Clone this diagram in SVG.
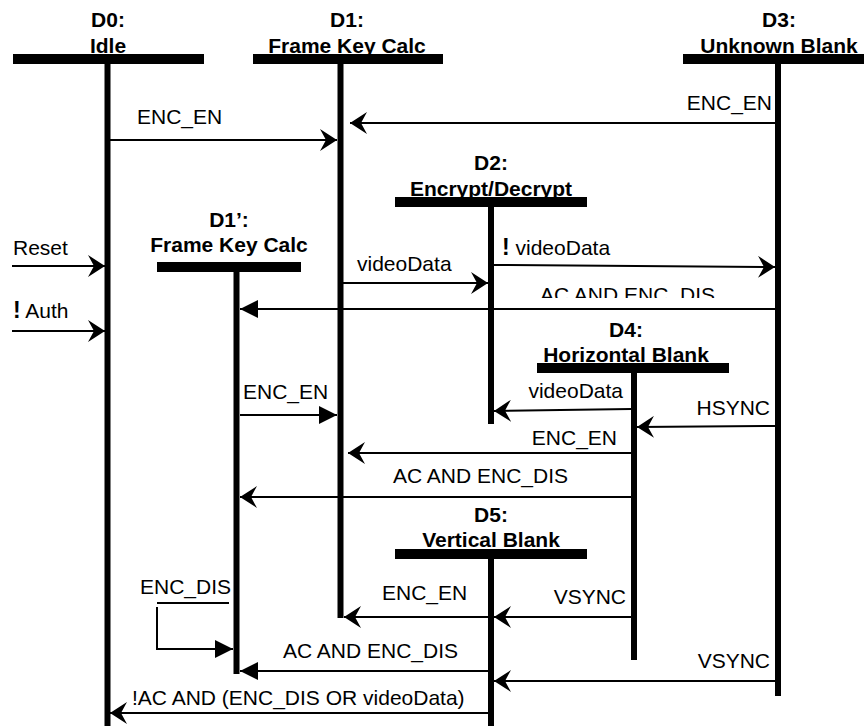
<svg xmlns="http://www.w3.org/2000/svg" width="864" height="726" viewBox="0 0 864 726">
<style>
.hdr{font-family:"Liberation Sans",Arial,sans-serif;font-weight:bold;font-size:21px;fill:#000;text-anchor:middle}
.lbl{font-family:"Liberation Sans",Arial,sans-serif;font-size:21px;fill:#000}
.end{text-anchor:end}
.bar{fill:#000}
.life{stroke:#000;stroke-width:6;fill:none}
.msg{stroke:#000;stroke-width:2;fill:none}
.st{marker-end:url(#stealth)}
.tri{marker-end:url(#tri)}
.bang{font-weight:bold;font-size:23px}
</style>
<defs>
<marker id="stealth" markerUnits="userSpaceOnUse" markerWidth="17" markerHeight="22" viewBox="0 0 17 22" refX="17" refY="11" orient="auto">
<path d="M0,0 L17,11 L0,22 L6,11 Z" fill="#000"/>
</marker>
<marker id="tri" markerUnits="userSpaceOnUse" markerWidth="18" markerHeight="18" viewBox="0 0 18 18" refX="18" refY="9" orient="auto">
<path d="M0,0 L18,9 L0,18 Z" fill="#000"/>
</marker>
<clipPath id="cut1"><rect x="500" y="270" width="260" height="28"/></clipPath>
</defs>

<g id="D0">
<text class="hdr" x="108" y="27">D0:</text>
<text class="hdr" x="108" y="53">Idle</text>
<rect class="bar" x="13" y="54" width="191" height="10"/>
<line class="life" x1="107.5" y1="63" x2="107.5" y2="726"/>
</g>
<g id="D1">
<text class="hdr" x="347" y="27">D1:</text>
<text class="hdr" x="347" y="53">Frame Key Calc</text>
<rect class="bar" x="253" y="54" width="190" height="10"/>
<line class="life" x1="340.5" y1="63" x2="340.5" y2="618"/>
</g>
<g id="D3">
<text class="hdr" x="779" y="27">D3:</text>
<text class="hdr" x="779" y="53">Unknown Blank</text>
<rect class="bar" x="683" y="54" width="181" height="10"/>
<line class="life" x1="778" y1="63" x2="778" y2="696"/>
</g>
<g id="D2">
<text class="hdr" x="491" y="170">D2:</text>
<text class="hdr" x="491" y="196">Encrypt/Decrypt</text>
<rect class="bar" x="395" y="197" width="192" height="10"/>
<line class="life" x1="491" y1="206" x2="491" y2="424"/>
</g>
<g id="D1p">
<text class="hdr" x="229" y="227">D1’:</text>
<text class="hdr" x="229" y="252">Frame Key Calc</text>
<rect class="bar" x="157" y="262" width="144" height="10"/>
<line class="life" x1="236.5" y1="271" x2="236.5" y2="674"/>
</g>
<g id="D4">
<text class="hdr" x="626" y="337">D4:</text>
<text class="hdr" x="626" y="362">Horizontal Blank</text>
<rect class="bar" x="537" y="363" width="192" height="10"/>
<line class="life" x1="634" y1="372" x2="634" y2="660"/>
</g>
<g id="D5">
<text class="hdr" x="491" y="522">D5:</text>
<text class="hdr" x="491" y="547">Vertical Blank</text>
<rect class="bar" x="395" y="549" width="192" height="10"/>
<line class="life" x1="491" y1="558" x2="491" y2="726"/>
</g>

<g id="connectors">
<g><line class="msg st" x1="110" y1="140" x2="337" y2="140"/><text class="lbl" x="137" y="124">ENC_EN</text></g>
<g><line class="msg st" x1="775" y1="123" x2="350" y2="123"/><text class="lbl end" x="772" y="110">ENC_EN</text></g>
<g><line class="msg st" x1="12" y1="266" x2="105" y2="266"/><text class="lbl" x="13" y="255">Reset</text></g>
<g><line class="msg st" x1="12" y1="331" x2="105" y2="331"/><text class="lbl" x="13" y="318"><tspan class="bang">!</tspan> Auth</text></g>
<g><line class="msg st" x1="343" y1="283" x2="488" y2="283"/><text class="lbl" x="357" y="271">videoData</text></g>
<g><line class="msg st" x1="494" y1="265" x2="775" y2="267"/><text class="lbl" x="502" y="255"><tspan class="bang">!</tspan> videoData</text></g>
<g><line class="msg tri" x1="775" y1="309" x2="240" y2="309"/><text class="lbl" x="540" y="302" clip-path="url(#cut1)">AC AND ENC_DIS</text></g>
<g><line class="msg tri" x1="240" y1="415" x2="337" y2="415"/><text class="lbl" x="243" y="399">ENC_EN</text></g>
<g><line class="msg st" x1="631" y1="409" x2="494" y2="411"/><text class="lbl end" x="623" y="398">videoData</text></g>
<g><line class="msg st" x1="775" y1="426" x2="637" y2="427"/><text class="lbl end" x="770" y="415">HSYNC</text></g>
<g><line class="msg st" x1="631" y1="453" x2="348" y2="453"/><text class="lbl end" x="617" y="445">ENC_EN</text></g>
<g><line class="msg st" x1="631" y1="497" x2="240" y2="497"/><text class="lbl" x="393" y="483">AC AND ENC_DIS</text></g>
<g><line class="msg" x1="157" y1="603" x2="229" y2="603"/><polyline class="msg tri" points="157,607 157,649 233,649"/><text class="lbl" x="140" y="594">ENC_DIS</text></g>
<g><line class="msg st" x1="488" y1="617" x2="344" y2="617"/><text class="lbl" x="382" y="600">ENC_EN</text></g>
<g><line class="msg st" x1="631" y1="617" x2="494" y2="617"/><text class="lbl end" x="626" y="604">VSYNC</text></g>
<g><line class="msg tri" x1="488" y1="671" x2="240" y2="671"/><text class="lbl" x="283" y="658">AC AND ENC_DIS</text></g>
<g><line class="msg st" x1="775" y1="681" x2="494" y2="681"/><text class="lbl end" x="770" y="668">VSYNC</text></g>
<g><line class="msg st" x1="488" y1="713" x2="110" y2="713"/><text class="lbl" x="132" y="705">!AC AND (ENC_DIS OR videoData)</text></g>
</g>
</svg>
